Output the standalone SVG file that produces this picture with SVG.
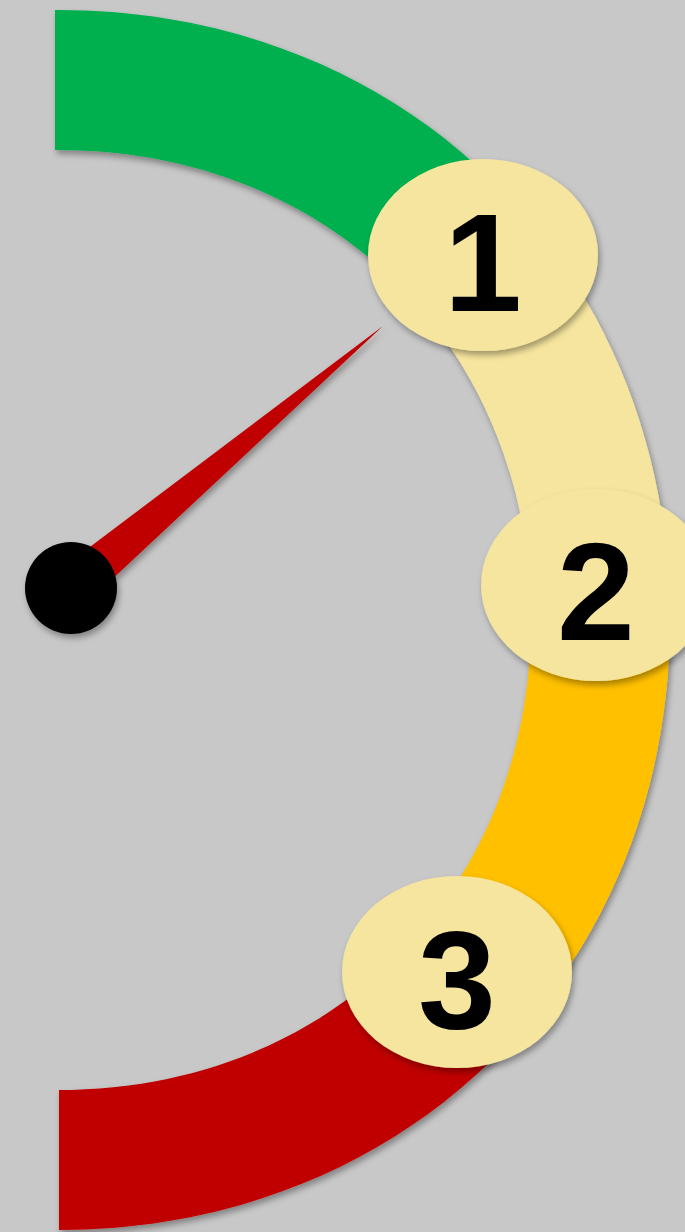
<svg xmlns="http://www.w3.org/2000/svg" xmlns:xlink="http://www.w3.org/1999/xlink" width="685" height="1232" viewBox="0 0 685 1232">
  <style>
    .badge { fill: #F6E59E; }
    .digit { font-family: "Liberation Sans", Arial, sans-serif; font-weight: bold; font-size: 140px; fill: #000000; text-anchor: middle; }
  </style>
  <defs>
    <filter id="shadow" x="-20%" y="-20%" width="140%" height="140%">
      <feDropShadow dx="2" dy="4" stdDeviation="3" flood-color="#000000" flood-opacity="0.35"/>
    </filter>
    <path id="ring" d="M55,10 L58,10 C409.3,10 670,269.9 670,620 C670,970.1 409.3,1230 58,1230 L59,1230 L59,1090 L58,1090 C331.4,1090 531,891.7 531,620 C531,348.3 331.4,150 58,150 L55,150 Z"/>
    <clipPath id="clip-green"><polygon points="58,620 908,-110 908,-300 -100,-300 -100,620"/></clipPath>
    <clipPath id="clip-beige"><polygon points="58,620 908,-110 1400,-110 1400,550 1134,550"/></clipPath>
    <clipPath id="clip-orange"><polygon points="58,620 1134,550 1134,1324 856,1324"/></clipPath>
    <clipPath id="clip-red"><polygon points="58,620 856,1324 856,1400 -100,1400 -100,620"/></clipPath>
  </defs>

  <rect x="0" y="0" width="685" height="1232" fill="#C8C8C8"/>

  <g id="gauge-ring" filter="url(#shadow)">
    <use xlink:href="#ring" href="#ring" fill="#00B050" clip-path="url(#clip-green)"/>
    <use xlink:href="#ring" href="#ring" fill="#F6E59E" clip-path="url(#clip-beige)"/>
    <use xlink:href="#ring" href="#ring" fill="#FFC000" clip-path="url(#clip-orange)"/>
    <use xlink:href="#ring" href="#ring" fill="#C00000" clip-path="url(#clip-red)"/>
  </g>

  <g id="needle" filter="url(#shadow)">
    <polygon points="383,326 70,562 77,612" fill="#C00000"/>
    <circle cx="71" cy="588" r="46" fill="#000000"/>
  </g>

  <g id="marker-1">
    <ellipse class="badge" cx="483" cy="255" rx="115" ry="96" filter="url(#shadow)"/>
    <text class="digit" x="483" y="311">1</text>
  </g>
  <g id="marker-2">
    <ellipse class="badge" cx="596" cy="585" rx="115" ry="96" filter="url(#shadow)"/>
    <text class="digit" x="596" y="640">2</text>
  </g>
  <g id="marker-3">
    <ellipse class="badge" cx="457" cy="972" rx="115" ry="96" filter="url(#shadow)"/>
    <text class="digit" x="457" y="1028">3</text>
  </g>
</svg>
